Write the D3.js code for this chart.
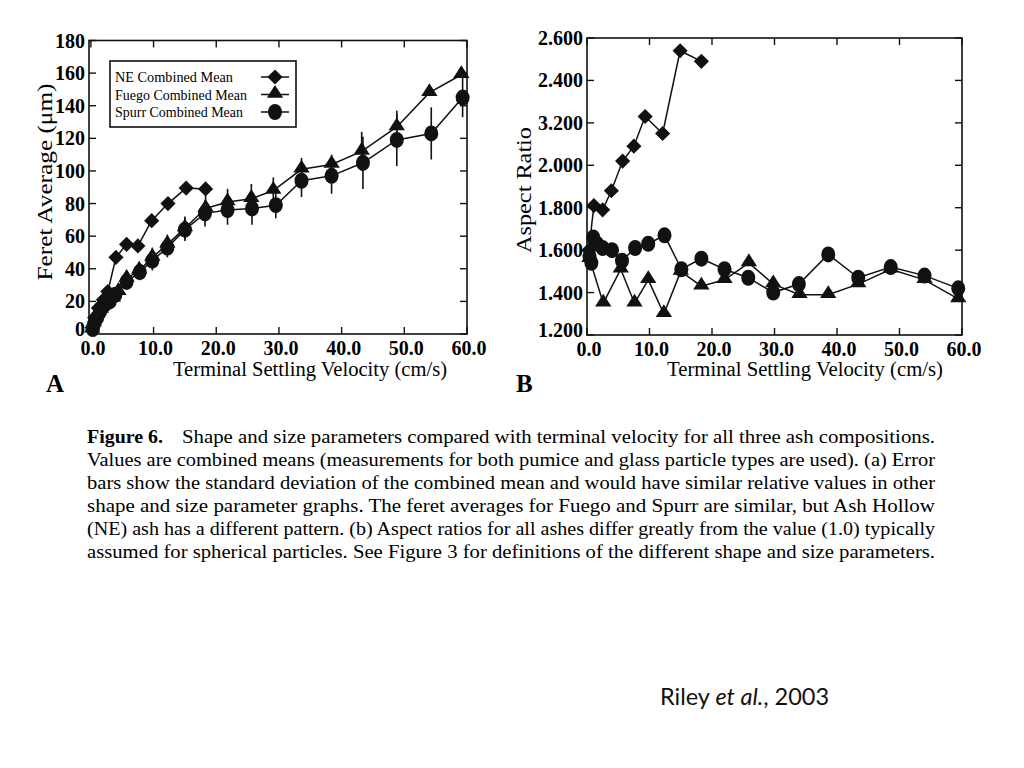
<!DOCTYPE html>
<html>
<head>
<meta charset="utf-8">
<script src="https://cdn.jsdelivr.net/npm/d3@7"></script>
<style>
  body { margin: 0; background: #fff; }
  svg { display: block; }
  .tick-lab { font-family: "Liberation Serif", "Times New Roman", serif; font-weight: bold; font-size: 20px; }
  .ax-title { font-family: "Liberation Serif", "Times New Roman", serif; font-size: 20.5px; }
  .caption { font-family: "Liberation Serif", "Times New Roman", serif; font-size: 18px; }
</style>
</head>
<body>
<svg id="svg" width="1024" height="768"></svg>
<script>
// ---- panel A : feret average vs settling velocity
var neVelA = [0.2, 0.6, 1.2, 2.0, 2.7, 4.0, 5.7, 7.5, 9.7, 12.3, 15.2, 18.3]
var neFeret = [4, 10, 16, 21, 26, 47, 55, 54, 69.5, 80, 89.5, 89]

var fuegoVelA = [0.2, 0.5, 1.0, 1.6, 2.5, 3.5, 4.4, 5.7, 7.7, 9.8, 12.2, 15.0, 18.3, 21.8, 25.6, 29.1, 33.6, 38.4, 43.2, 48.8, 54.0, 59.1]
var fuegoFeret = [3, 7, 12, 15, 19, 22, 26, 34, 39, 47, 55, 65, 77, 81, 83, 88, 101, 104, 112, 127, 148, 159]
var fuegoErr = [2, 3, 3, 4, 4, 4, 5, 5, 5, 6, 6, 7, 8, 8, 9, 8, 7, 6, 12, 10, 0, 0]

var spurrVelA = [0.3, 0.5, 1.0, 1.5, 2.2, 3.0, 3.9, 5.7, 7.8, 9.8, 12.2, 15.0, 18.2, 21.8, 25.7, 29.5, 33.6, 38.4, 43.4, 48.8, 54.3, 59.3]
var spurrFeret = [3, 6, 10, 14, 18, 20, 24, 32, 38, 45, 53, 64, 74, 76, 77, 79, 94, 97, 105, 119, 123, 145]
var spurrErr = [2, 2, 3, 3, 4, 4, 4, 5, 5, 6, 6, 7, 8, 9, 10, 8, 10, 11, 16, 16, 16, 12]

// ---- panel B : aspect ratio vs settling velocity
var neVelB = [0.3, 1.1, 2.5, 3.9, 5.7, 7.5, 9.3, 12.1, 14.9, 18.3]
var neAspect = [1.60, 1.81, 1.79, 1.88, 2.02, 2.09, 2.23, 2.15, 2.54, 2.49]

var fuegoVelB = [0.4, 2.6, 5.4, 7.6, 9.8, 12.3, 15.0, 18.3, 22.0, 25.9, 29.8, 34.0, 38.6, 43.4, 48.6, 54.0, 59.4]
var fuegoAspect = [1.56, 1.35, 1.51, 1.35, 1.46, 1.30, 1.50, 1.43, 1.46, 1.54, 1.44, 1.39, 1.39, 1.44, 1.51, 1.46, 1.37]

var spurrVelB = [0.4, 0.7, 1.0, 1.6, 2.5, 4.0, 5.6, 7.7, 9.8, 12.4, 15.1, 18.3, 22.0, 25.8, 29.8, 33.9, 38.6, 43.4, 48.6, 54.0, 59.4]
var spurrAspect = [1.57, 1.54, 1.66, 1.63, 1.61, 1.60, 1.55, 1.61, 1.63, 1.67, 1.51, 1.56, 1.51, 1.47, 1.40, 1.44, 1.58, 1.47, 1.52, 1.48, 1.42]

var xTicks = [0, 10, 20, 30, 40, 50, 60]
var xTickLabels = ["0.0", "10.0", "20.0", "30.0", "40.0", "50.0", "60.0"]
var yTicksA = [0, 20, 40, 60, 80, 100, 120, 140, 160, 180]
var yTicksB = [1.2, 1.4, 1.6, 1.8, 2.0, 2.2, 2.4, 2.6]
// the printed figure labels 2.2 as "3.200"
var yTickLabelsB = ["1.200", "1.400", "1.600", "1.800", "2.000", "3.200", "2.400", "2.600"]

var legendNames = ["NE Combined Mean", "Fuego Combined Mean", "Spurr Combined Mean"]
var legendShapes = ["diamond", "triangle", "circle"]
var legendWidths = [118, 132, 128]

var captionLines = [
  "Values are combined means (measurements for both pumice and glass particle types are used). (a) Error",
  "bars show the standard deviation of the combined mean and would have similar relative values in other",
  "shape and size parameter graphs. The feret averages for Fuego and Spurr are similar, but Ash Hollow",
  "(NE) ash has a different pattern. (b) Aspect ratios for all ashes differ greatly from the value (1.0) typically",
  "assumed for spherical particles. See Figure 3 for definitions of the different shape and size parameters."
]

var svg = d3.select("#svg")

function zip(xs, ys, es) {
  return xs.map(function(x, i) { return {x: x, y: ys[i], e: es ? es[i] : 0} })
}

function marker(g, shape, cx, cy) {
  if (shape === "diamond") {
    g.append("path")
      .attr("d", d3.symbol(d3.symbolSquare, 115)())
      .attr("transform", "translate(" + cx + "," + cy + ") rotate(45)")
      .attr("fill", "#111")
  } else if (shape === "triangle") {
    g.append("path")
      .attr("d", d3.symbol(d3.symbolTriangle, 105)())
      .attr("transform", "translate(" + cx + "," + (cy - 1) + ") scale(1.05,0.95)")
      .attr("fill", "#111")
  } else {
    g.append("ellipse")
      .attr("cx", cx).attr("cy", cy)
      .attr("rx", 7).attr("ry", 8)
      .attr("fill", "#111")
  }
}

function drawPanel(p) {
  var g = svg.append("g")
  var x = p.x, y = p.y
  var x0 = x.range()[0], x1 = x.range()[1]
  var y0 = y.range()[0], y1 = y.range()[1]

  // frame
  g.append("rect")
    .attr("x", x0).attr("y", y1)
    .attr("width", x1 - x0).attr("height", y0 - y1)
    .attr("fill", "none").attr("stroke", "#111").attr("stroke-width", 1.6)

  // inside ticks on all sides
  var tl = 7
  xTicks.forEach(function(t) {
    g.append("line").attr("x1", x(t)).attr("x2", x(t)).attr("y1", y0).attr("y2", y0 - tl)
      .attr("stroke", "#111").attr("stroke-width", 1.4)
    g.append("line").attr("x1", x(t)).attr("x2", x(t)).attr("y1", y1).attr("y2", y1 + tl)
      .attr("stroke", "#111").attr("stroke-width", 1.4)
  })
  p.yTicks.forEach(function(t) {
    g.append("line").attr("x1", x0).attr("x2", x0 + tl).attr("y1", y(t)).attr("y2", y(t))
      .attr("stroke", "#111").attr("stroke-width", 1.4)
    g.append("line").attr("x1", x1).attr("x2", x1 - tl).attr("y1", y(t)).attr("y2", y(t))
      .attr("stroke", "#111").attr("stroke-width", 1.4)
  })

  // tick labels
  g.selectAll(".xl").data(xTicks).enter().append("text")
    .attr("class", "tick-lab")
    .attr("x", function(d) { return x(d) + 2 })
    .attr("y", y0 + 21)
    .attr("text-anchor", "middle")
    .text(function(d, i) { return xTickLabels[i] })
  g.selectAll(".yl").data(p.yTicks).enter().append("text")
    .attr("class", "tick-lab")
    .attr("x", x0 - 4)
    .attr("y", function(d, i) { return y(d) + (i === 0 ? 2 : 7) })
    .attr("text-anchor", "end")
    .text(function(d, i) { return p.yLabels[i] })

  // axis titles
  g.append("text").attr("class", "ax-title")
    .attr("x", p.xTitleX).attr("y", 376)
    .attr("text-anchor", "middle")
    .attr("textLength", p.xTitleLen).attr("lengthAdjust", "spacingAndGlyphs")
    .text("Terminal Settling Velocity (cm/s)")
  g.append("text").attr("class", "ax-title")
    .attr("transform", "translate(" + p.yTitleX + "," + p.yTitleY + ") rotate(-90)")
    .attr("text-anchor", "middle")
    .attr("textLength", p.yTitleLen).attr("lengthAdjust", "spacingAndGlyphs")
    .text(p.yTitle)

  // panel letter
  g.append("text").attr("class", "tick-lab")
    .attr("x", p.letterX).attr("y", 392)
    .style("font-size", "25px")
    .text(p.letter)

  var line = d3.line().x(function(d) { return x(d.x) }).y(function(d) { return y(d.y) })

  p.series.forEach(function(s) {
    g.append("path").datum(s.data)
      .attr("d", line)
      .attr("fill", "none").attr("stroke", "#111").attr("stroke-width", 1.5)
    s.data.forEach(function(d) {
      if (d.e > 0) {
        g.append("line")
          .attr("x1", x(d.x)).attr("x2", x(d.x))
          .attr("y1", y(d.y - d.e)).attr("y2", y(d.y + d.e))
          .attr("stroke", "#111").attr("stroke-width", 1.6)
      }
    })
    s.data.forEach(function(d) { marker(g, s.shape, x(d.x), y(d.y)) })
  })
}

drawPanel({
  x: d3.scaleLinear().domain([-0.3, 60]).range([89, 467]),
  y: d3.scaleLinear().domain([0, 180]).range([334, 40.5]),
  yTicks: yTicksA,
  yLabels: yTicksA.map(String),
  yTitle: "Feret Average (μm)", yTitleLen: 197,
  yTitleX: 52, yTitleY: 182,
  xTitleX: 310, xTitleLen: 274,
  letter: "A", letterX: 46,
  series: [
    {shape: "diamond", data: zip(neVelA, neFeret)},
    {shape: "triangle", data: zip(fuegoVelA, fuegoFeret, fuegoErr)},
    {shape: "circle", data: zip(spurrVelA, spurrFeret, spurrErr)}
  ]
})

drawPanel({
  x: d3.scaleLinear().domain([0, 60]).range([587, 962]),
  y: d3.scaleLinear().domain([1.2, 2.6]).range([335, 38]),
  yTicks: yTicksB,
  yLabels: yTickLabelsB,
  yTitle: "Aspect Ratio", yTitleLen: 126,
  yTitleX: 531, yTitleY: 190,
  xTitleX: 805, xTitleLen: 276,
  letter: "B", letterX: 516,
  series: [
    {shape: "diamond", data: zip(neVelB, neAspect)},
    {shape: "triangle", data: zip(fuegoVelB, fuegoAspect)},
    {shape: "circle", data: zip(spurrVelB, spurrAspect)}
  ]
})

// legend of panel A
var leg = svg.append("g")
leg.append("rect")
  .attr("x", 110).attr("y", 61).attr("width", 186).attr("height", 66)
  .attr("fill", "#fff").attr("stroke", "#111").attr("stroke-width", 1.6)
legendNames.forEach(function(name, i) {
  var cy = 77 + i * 17.5
  leg.append("text")
    .attr("x", 115).attr("y", cy + 5)
    .style("font-family", "Liberation Serif, serif").style("font-size", "15.5px")
    .attr("textLength", legendWidths[i]).attr("lengthAdjust", "spacingAndGlyphs")
    .text(name)
  leg.append("line").attr("x1", 261).attr("x2", 289).attr("y1", cy).attr("y2", cy)
    .attr("stroke", "#111").attr("stroke-width", 1.5)
  marker(leg, legendShapes[i], 275, cy)
})

// caption
var cap = svg.append("g")
cap.append("text").attr("class", "caption")
  .attr("x", 87).attr("y", 443)
  .style("font-weight", "bold")
  .attr("textLength", 76).attr("lengthAdjust", "spacingAndGlyphs")
  .text("Figure 6.")
cap.append("text").attr("class", "caption")
  .attr("x", 182).attr("y", 443)
  .attr("textLength", 753).attr("lengthAdjust", "spacingAndGlyphs")
  .text("Shape and size parameters compared with terminal velocity for all three ash compositions.")
captionLines.forEach(function(t, i) {
  cap.append("text").attr("class", "caption")
    .attr("x", 87).attr("y", 466 + i * 23)
    .attr("textLength", 848).attr("lengthAdjust", "spacingAndGlyphs")
    .text(t)
})

// source note
var src = svg.append("text")
  .attr("x", 660).attr("y", 705)
  .style("font-family", "Lato, 'Open Sans', sans-serif").style("font-size", "23.5px")
  .attr("fill", "#111")
src.append("tspan").text("Riley ")
src.append("tspan").style("font-style", "italic").text("et al.")
src.append("tspan").text(", 2003")
</script>
</body>
</html>
